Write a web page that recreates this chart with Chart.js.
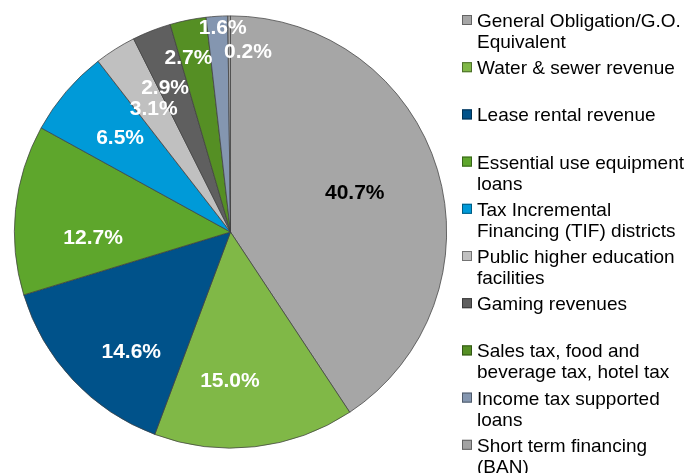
<!DOCTYPE html>
<html>
<head>
<meta charset="utf-8">
<script src="https://cdn.jsdelivr.net/npm/chart.js@4.4.1/dist/chart.umd.min.js"></script>
<style>
  html, body { margin: 0; padding: 0; background: #ffffff; }
  #wrap { position: relative; width: 689px; height: 473px; }
</style>
</head>
<body>
<div id="wrap"><canvas id="c" width="689" height="473"></canvas></div>
<script>
// ---- data ----
const categories = [
  ["General Obligation/G.O.", "Equivalent"],
  ["Water & sewer revenue"],
  ["Lease rental revenue"],
  ["Essential use equipment", "loans"],
  ["Tax Incremental", "Financing (TIF) districts"],
  ["Public higher education", "facilities"],
  ["Gaming revenues"],
  ["Sales tax, food and", "beverage tax, hotel tax"],
  ["Income tax supported", "loans"],
  ["Short term financing", "(BAN)"]
];
const shares = [40.7, 15.0, 14.6, 12.7, 6.5, 3.1, 2.9, 2.7, 1.6, 0.2];
const valueLabels = ["40.7%", "15.0%", "14.6%", "12.7%", "6.5%", "3.1%", "2.9%", "2.7%", "1.6%", "0.2%"];

// ---- style ----
const colors = ["#a6a6a6", "#80b847", "#00528a", "#5ea62c", "#009ad8", "#c0c0c0", "#5f5f5f", "#558f24", "#8496b0", "#a3a3a3"];
const labelColors = ["#000000", "#ffffff", "#ffffff", "#ffffff", "#ffffff", "#ffffff", "#ffffff", "#ffffff", "#ffffff", "#ffffff"];
const labelRadiusFrac = [0.604, 0.684, 0.719, 0.636, 0.672, 0.674, 0.735, 0.83, 0.947, 0.84];
const labelAngleShiftDeg = [-1.1, 6.7, -7.1, -8.1, 0, 0.4, -2.9, -2.2, 1.4, 5.9];
const FONT = "'Liberation Sans', Arial, Helvetica, sans-serif";

function darken(hex, f) {
  const n = parseInt(hex.slice(1), 16);
  const r = Math.round(((n >> 16) & 255) * f), g = Math.round(((n >> 8) & 255) * f), b = Math.round((n & 255) * f);
  return `rgb(${r},${g},${b})`;
}

const labelPlugin = {
  id: 'sliceLabels',
  afterDatasetsDraw(chart) {
    const ctx = chart.ctx;
    const meta = chart.getDatasetMeta(0);
    ctx.save();
    ctx.font = `bold 21px ${FONT}`;
    ctx.textAlign = 'center';
    ctx.textBaseline = 'middle';
    meta.data.forEach((arc, i) => {
      const p = arc.getProps(['x', 'y', 'startAngle', 'endAngle', 'outerRadius'], true);
      const mid = (p.startAngle + p.endAngle) / 2 + labelAngleShiftDeg[i] * Math.PI / 180;
      const r = p.outerRadius * labelRadiusFrac[i];
      ctx.fillStyle = labelColors[i];
      ctx.fillText(valueLabels[i], p.x + Math.cos(mid) * r, p.y + Math.sin(mid) * r + 1);
    });
    ctx.restore();
  }
};

const legendPlugin = {
  id: 'sideLegend',
  afterDraw(chart) {
    const ctx = chart.ctx;
    const x0 = 462, firstTop = 15, step = 47.2, box = 10, lineH = 21;
    ctx.save();
    ctx.font = `19px ${FONT}`;
    ctx.textAlign = 'left';
    ctx.textBaseline = 'alphabetic';
    categories.forEach((lines, i) => {
      const top = firstTop + i * step;
      ctx.fillStyle = colors[i];
      ctx.fillRect(x0, top, box, box);
      ctx.strokeStyle = darken(colors[i], 0.6);
      ctx.lineWidth = 1;
      ctx.strokeRect(x0 + 0.5, top + 0.5, box - 1, box - 1);
      ctx.fillStyle = '#000000';
      lines.forEach((t, j) => ctx.fillText(t, 477, top + 12 + j * lineH));
    });
    ctx.restore();
  }
};

new Chart(document.getElementById('c'), {
  type: 'pie',
  data: {
    labels: categories.map(l => l.join(' ')),
    datasets: [{
      data: shares,
      backgroundColor: colors,
      borderColor: '#404040',
      borderWidth: 0.75
    }]
  },
  options: {
    responsive: false,
    animation: false,
    layout: { padding: { left: 14, top: 15.5, right: 242, bottom: 24.5 } },
    plugins: { legend: { display: false }, tooltip: { enabled: false } }
  },
  plugins: [labelPlugin, legendPlugin]
});
</script>
</body>
</html>
